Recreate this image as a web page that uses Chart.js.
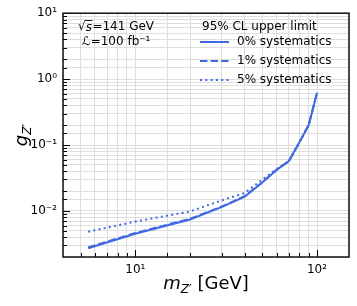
<!DOCTYPE html>
<html><head><meta charset="utf-8">
<script src="https://cdn.jsdelivr.net/npm/chart.js@4/dist/chart.umd.min.js"></script>
<style>html,body{margin:0;padding:0;background:#fff}canvas{display:block}</style>
</head><body>
<canvas id="c" width="357" height="306"></canvas>
<script>
const masses = [5.5, 10, 20, 30, 40, 50, 60, 70, 80, 90, 100];
const sys0 = [0.00272, 0.0045, 0.0074, 0.0115, 0.0165, 0.027, 0.042, 0.057, 0.11, 0.20, 0.62];
const sys1 = [0.00280, 0.00462, 0.0076, 0.0117, 0.0167, 0.0272, 0.0422, 0.057, 0.11, 0.20, 0.62];
const sys5 = [0.00484, 0.0069, 0.0098, 0.0145, 0.0187, 0.030, 0.043, 0.057, 0.11, 0.20, 0.62];
const seriesLabels = ['0% systematics', '1% systematics', '5% systematics'];
const legendTitle = '95% CL upper limit';
const xTitleMain = 'm', xTitleSub = 'Z\u2032', xTitleUnit = ' [GeV]';
const yTitleMain = 'g', yTitleSub = 'Z\u2032';
const annot1 = ['s', '=141 GeV'];
const annot2 = '\u2112=100 fb\u207B\u00B9';
const sup = {'-':'\u207B','0':'\u2070','1':'\u00B9','2':'\u00B2','3':'\u00B3'};

const COLOR = '#4169E1';
const FONT = 'DejaVu Sans';
const isPow = v => Math.abs(Math.log10(v) - Math.round(Math.log10(v))) < 1e-6;
const powLabel = v => '10' + String(Math.round(Math.log10(v))).split('').map(c=>sup[c]).join('');
const pts = arr => masses.map((m,i)=>({x:m, y:arr[i]}));

const dashes = [[], [7.4, 3.2], [2, 3.3]];

const overlay = {
  id: 'overlay',
  afterDraw(chart) {
    const ctx = chart.ctx, a = chart.chartArea, xs = chart.scales.x, ys = chart.scales.y;
    ctx.save();
    // inward ticks
    ctx.strokeStyle = '#000'; ctx.lineWidth = 1;
    xs.ticks.forEach(t => {
      const p = xs.getPixelForValue(t.value);
      if (p < a.left + 1 || p > a.right - 1) return;
      const L = isPow(t.value) ? 7 : 4;
      ctx.beginPath(); ctx.moveTo(Math.round(p)+0.5, a.bottom); ctx.lineTo(Math.round(p)+0.5, a.bottom - L); ctx.stroke();
    });
    ys.ticks.forEach(t => {
      const p = ys.getPixelForValue(t.value);
      if (p < a.top - 0.5 || p > a.bottom - 1) return;
      const L = isPow(t.value) ? 7 : 4;
      ctx.beginPath(); ctx.moveTo(a.left, Math.round(p)+0.5); ctx.lineTo(a.left + L, Math.round(p)+0.5); ctx.stroke();
    });
    // frame
    ctx.strokeStyle = '#111'; ctx.lineWidth = 1.5;
    ctx.strokeRect(a.left, a.top, a.right - a.left, a.bottom - a.top);

    ctx.fillStyle = '#000';
    ctx.textBaseline = 'middle';
    // annotation
    ctx.font = '12px ' + FONT;
    let x0 = 78, y1 = 27;
    ctx.textAlign = 'left';
    ctx.fillText('\u221A', x0, y1);
    const wr = ctx.measureText('\u221A').width;
    ctx.font = 'italic 12px ' + FONT;
    ctx.fillText(annot1[0], x0 + wr, y1 + 1);
    const ws = ctx.measureText(annot1[0]).width;
    ctx.lineWidth = 0.9; ctx.strokeStyle = '#000';
    ctx.beginPath(); ctx.moveTo(x0 + wr - 0.5, y1 - 6.5); ctx.lineTo(x0 + wr + ws + 0.5, y1 - 6.5); ctx.stroke();
    ctx.font = '12px ' + FONT;
    ctx.fillText(annot1[1], x0 + wr + ws + 0.5, y1);
    ctx.fillText(annot2, 82, 42);

    // legend
    ctx.font = '12px ' + FONT;
    ctx.fillText(legendTitle, 202, 27);
    const rows = [42, 61, 80];
    chart.data.datasets.forEach((ds, i) => {
      ctx.save();
      ctx.strokeStyle = ds.borderColor; ctx.lineWidth = ds.borderWidth;
      ctx.setLineDash(ds.borderDash || []);
      ctx.beginPath(); ctx.moveTo(200, rows[i]); ctx.lineTo(229, rows[i]); ctx.stroke();
      ctx.restore();
      ctx.fillText(ds.label, 237, rows[i]);
    });

    // x title
    ctx.textBaseline = 'alphabetic';
    ctx.font = 'italic 18px ' + FONT;
    const wm = ctx.measureText(xTitleMain).width;
    ctx.font = 'italic 12px ' + FONT;
    const wz = ctx.measureText(xTitleSub).width;
    ctx.font = '18px ' + FONT;
    const wu = ctx.measureText(xTitleUnit).width;
    let xt = (a.left + a.right) / 2 - (wm + wz + wu) / 2;
    const yb = 289;
    ctx.font = 'italic 18px ' + FONT; ctx.fillText(xTitleMain, xt, yb);
    ctx.font = 'italic 12px ' + FONT; ctx.fillText(xTitleSub, xt + wm, yb + 4);
    ctx.font = '18px ' + FONT; ctx.fillText(xTitleUnit, xt + wm + wz, yb);

    // y title
    ctx.save();
    ctx.translate(27, (a.top + a.bottom) / 2);
    ctx.rotate(-Math.PI / 2);
    ctx.font = 'italic 18px ' + FONT;
    const wg = ctx.measureText(yTitleMain).width;
    ctx.font = 'italic 12px ' + FONT;
    const wz2 = ctx.measureText(yTitleSub).width;
    const st = -(wg + wz2) / 2;
    ctx.font = 'italic 18px ' + FONT; ctx.fillText(yTitleMain, st, 0);
    ctx.font = 'italic 12px ' + FONT; ctx.fillText(yTitleSub, st + wg, 4);
    ctx.restore();
    ctx.restore();
  }
};

new Chart(document.getElementById('c'), {
  type: 'line',
  data: {
    datasets: [
      {label: seriesLabels[0], data: pts(sys0), borderColor: COLOR, borderWidth: 2, borderDash: dashes[0]},
      {label: seriesLabels[1], data: pts(sys1), borderColor: COLOR, borderWidth: 2, borderDash: dashes[1]},
      {label: seriesLabels[2], data: pts(sys5), borderColor: COLOR, borderWidth: 2, borderDash: dashes[2]}
    ]
  },
  options: {
    responsive: false, animation: false,
    layout: {padding: {top: 13, right: 8, left: 0, bottom: 0}},
    elements: {point: {radius: 0}, line: {tension: 0, fill: false, borderCapStyle: 'butt'}},
    plugins: {legend: {display: false}, tooltip: {enabled: false}},
    scales: {
      x: {
        type: 'logarithmic', min: 4, max: 150,
        afterFit: s => { s.height = 49; },
        grid: {color: '#dedede', lineWidth: 1, drawTicks: false},
        border: {display: false},
        ticks: {autoSkip: false, maxRotation: 0, padding: 6, color: '#000', font: {family: FONT, size: 12},
          callback: v => isPow(v) ? powLabel(v) : ''}
      },
      y: {
        type: 'logarithmic', min: 0.002, max: 10,
        afterFit: s => { s.width = 63; },
        grid: {color: '#dedede', lineWidth: 1, drawTicks: false},
        border: {display: false},
        ticks: {autoSkip: false, padding: 6, color: '#000', font: {family: FONT, size: 12},
          callback: v => isPow(v) ? powLabel(v) : ''}
      }
    }
  },
  plugins: [overlay]
});
</script>
</body></html>
